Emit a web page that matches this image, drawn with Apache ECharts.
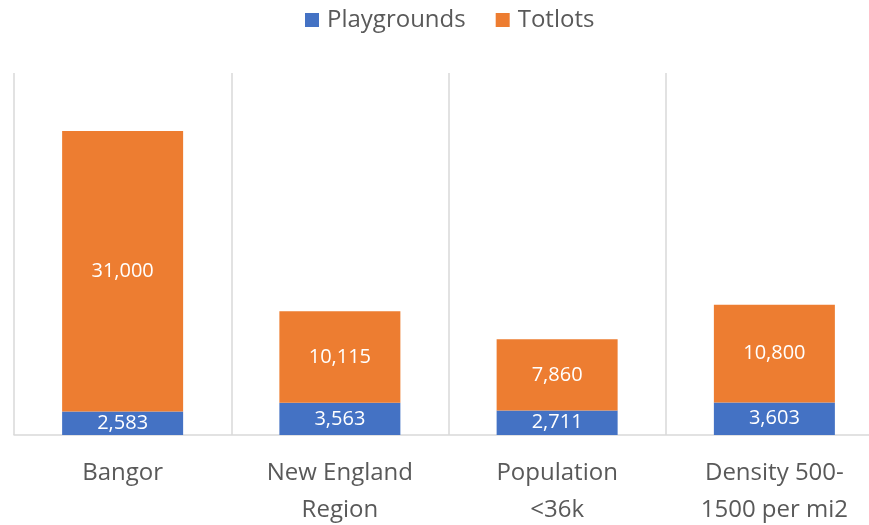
<!DOCTYPE html>
<html>
<head>
<meta charset="utf-8">
<script src="https://cdn.jsdelivr.net/npm/echarts@6/dist/echarts.min.js"></script>
<style>
  html, body { margin: 0; padding: 0; background: #fff; }
  #chart { width: 869px; height: 525px; }
</style>
</head>
<body>
<div id="chart"></div>
<script>
// Category names (line breaks as printed under the axis)
const categories = ['Bangor', 'New England\nRegion', 'Population\n<36k', 'Density 500-\n1500 per mi2'];
// Stacked segment values
const playgrounds = [2583, 3563, 2711, 3603];
const totlots = [31000, 10115, 7860, 10800];

const chart = echarts.init(document.getElementById('chart'), null, { renderer: 'canvas' });
const FONT = '"Open Sans", "Noto Sans", sans-serif';
const fmt = p => p.value.toLocaleString('en-US');

chart.setOption({
  animation: false,
  backgroundColor: '#ffffff',
  legend: {
    top: 3,
    left: 300,
    itemWidth: 14,
    itemHeight: 14,
    itemGap: 30,
    icon: 'rect',
    textStyle: { color: '#595959', fontSize: 24, fontFamily: FONT, padding: [0, 0, 0, 3] },
    data: ['Playgrounds', 'Totlots']
  },
  grid: { left: 14, top: 73, width: 869, height: 362, containLabel: false, outerBoundsMode: 'none' },
  xAxis: {
    type: 'category',
    data: categories,
    boundaryGap: true,
    axisLine: { show: true, lineStyle: { color: '#d9d9d9', width: 1.5 } },
    axisTick: { show: false },
    splitLine: { show: true, lineStyle: { color: '#d9d9d9', width: 1.5 } },
    axisLabel: {
      color: '#595959', fontSize: 24, fontFamily: FONT, lineHeight: 37, margin: 20,
      interval: 0
    }
  },
  yAxis: {
    type: 'value',
    min: 0,
    max: 40000,
    show: false,
    splitLine: { show: false }
  },
  series: [
    {
      name: 'Playgrounds', type: 'bar', stack: 'total', data: playgrounds,
      barWidth: 121,
      itemStyle: { color: '#4472C4' },
      label: { show: true, position: 'inside', color: '#ffffff', fontSize: 20, fontFamily: FONT, formatter: fmt }
    },
    {
      name: 'Totlots', type: 'bar', stack: 'total', data: totlots,
      barWidth: 121,
      itemStyle: { color: '#ED7D31' },
      label: { show: true, position: 'inside', color: '#ffffff', fontSize: 20, fontFamily: FONT, formatter: fmt }
    }
  ]
});
</script>
</body>
</html>
